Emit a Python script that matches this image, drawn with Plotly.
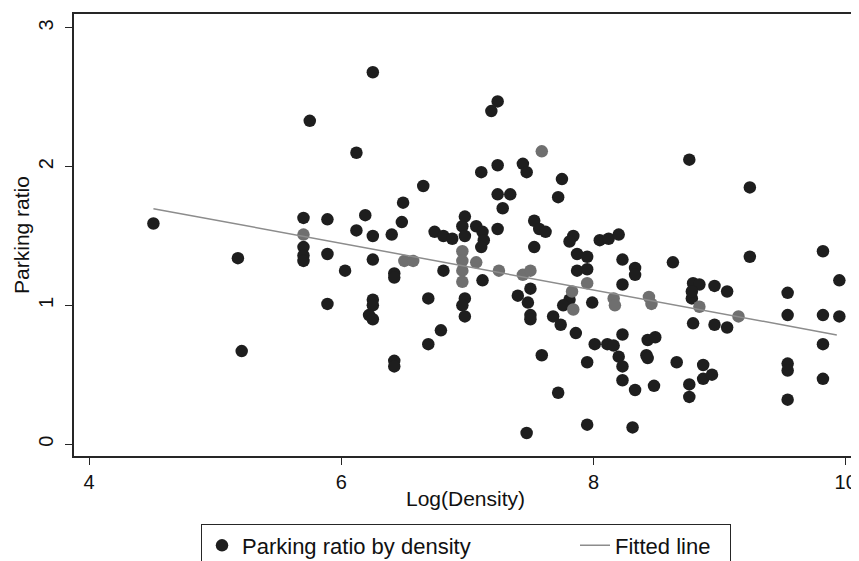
import plotly.graph_objects as go

# Log(Density) / Parking ratio observations (dark markers)
log_density = [
    4.51, 5.18, 5.21, 5.75, 5.70, 5.89, 5.70, 5.70, 5.70, 5.89,
    5.89, 6.12, 6.25, 6.65, 6.49, 6.48, 6.19, 6.12, 6.25, 6.40,
    6.03, 6.25, 6.42, 6.42, 6.25, 6.25, 6.22, 6.25, 6.69, 6.79,
    6.69, 6.42, 6.42, 6.74, 6.81, 6.88, 6.98, 6.96, 6.98, 7.07,
    7.12, 7.13, 7.11, 7.24, 6.81, 7.12, 6.98, 6.96, 6.98, 7.11,
    7.24, 7.44, 7.47, 7.24, 7.34, 7.28, 7.19, 7.24, 7.75, 7.72,
    7.53, 7.57, 7.62, 7.53, 7.40, 7.50, 7.48, 7.50, 7.50, 7.68,
    7.74, 7.86, 7.59, 7.72, 7.47, 7.84, 7.81, 7.87, 7.95, 7.87,
    7.95, 8.05, 8.12, 8.20, 8.23, 8.33, 8.33, 8.63, 8.76, 9.24,
    9.24, 9.82, 9.95, 8.23, 7.81, 7.76, 7.99, 8.79, 8.84, 8.78,
    8.78, 8.96, 9.06, 9.54, 9.54, 9.82, 9.95, 8.79, 8.96, 9.06,
    8.01, 8.11, 8.16, 8.23, 8.43, 8.49, 8.42, 8.43, 8.20, 8.23,
    8.23, 8.33, 8.48, 8.66, 8.87, 8.87, 8.94, 8.76, 8.76, 9.54,
    9.54, 9.82, 9.82, 9.54, 7.95, 7.95, 8.31,
]
parking_ratio = [
    1.59, 1.34, 0.67, 2.33, 1.63, 1.62, 1.42, 1.36, 1.32, 1.37,
    1.01, 2.10, 2.68, 1.86, 1.74, 1.60, 1.65, 1.54, 1.50, 1.51,
    1.25, 1.33, 1.23, 1.20, 1.04, 1.00, 0.93, 0.90, 1.05, 0.82,
    0.72, 0.60, 0.56, 1.53, 1.50, 1.48, 1.64, 1.57, 1.50, 1.57,
    1.53, 1.47, 1.42, 1.55, 1.25, 1.18, 1.05, 1.00, 0.92, 1.96,
    2.01, 2.02, 1.96, 1.80, 1.80, 1.70, 2.40, 2.47, 1.91, 1.78,
    1.61, 1.55, 1.53, 1.42, 1.07, 1.12, 1.02, 0.93, 0.90, 0.92,
    0.86, 0.80, 0.64, 0.37, 0.08, 1.50, 1.46, 1.37, 1.35, 1.25,
    1.26, 1.47, 1.48, 1.51, 1.33, 1.27, 1.22, 1.31, 2.05, 1.85,
    1.35, 1.39, 1.18, 1.15, 1.04, 1.00, 1.02, 1.16, 1.15, 1.05,
    1.10, 1.14, 1.10, 1.09, 0.93, 0.93, 0.92, 0.87, 0.86, 0.84,
    0.72, 0.72, 0.71, 0.79, 0.75, 0.77, 0.64, 0.62, 0.63, 0.56,
    0.46, 0.39, 0.42, 0.59, 0.57, 0.47, 0.50, 0.43, 0.34, 0.58,
    0.53, 0.72, 0.47, 0.32, 0.59, 0.14, 0.12,
]

# observations printed in lighter grey in the original
log_density_grey = [
    5.70, 6.50, 6.57, 6.96, 6.96, 7.07, 6.96, 6.96, 7.25, 7.44,
    7.50, 7.59, 7.95, 7.83, 7.84, 8.16, 8.17, 8.44, 8.46, 8.84, 9.15,
]
parking_ratio_grey = [
    1.51, 1.32, 1.32, 1.39, 1.32, 1.31, 1.25, 1.17, 1.25, 1.22,
    1.25, 2.11, 1.16, 1.10, 0.97, 1.05, 1.00, 1.06, 1.01, 0.99, 0.92,
]

# fitted regression line end points
fit_x = [4.51, 9.93]
fit_y = [1.697, 0.787]

x_ticks = [4, 6, 8, 10]
y_ticks = [0, 1, 2, 3]

FONT = "Liberation Sans, Arial, Helvetica, sans-serif"
INK = "#262626"

fig = go.Figure()
fig.add_trace(go.Scatter(
    x=log_density, y=parking_ratio, mode="markers",
    name="Parking ratio by density",
    marker=dict(color="#1e1e1e", size=12.5, line=dict(width=0)),
    legendwidth=328,
))
fig.add_trace(go.Scatter(
    x=log_density_grey, y=parking_ratio_grey, mode="markers",
    showlegend=False,
    marker=dict(color="#6f6f6f", size=12.5, line=dict(width=0)),
))
fig.add_trace(go.Scatter(
    x=fit_x, y=fit_y, mode="lines", name="Fitted line",
    line=dict(color="#8c8c8c", width=1.5),
    legendwidth=110,
))

axis_common = dict(
    showline=True, mirror=True, linecolor=INK, linewidth=1.5,
    ticks="outside", ticklen=7, tickwidth=1.2, tickcolor=INK,
    showgrid=False, zeroline=False, automargin=False,
    ticklabeloverflow="allow",
    tickfont=dict(family=FONT, size=20, color="#111"),
)

# the page body adds an 8px offset, so the figure is 851 wide and starts at x=8, y=8
fig.update_layout(
    width=851, height=561,
    margin=dict(l=66, r=2, t=6, b=110),
    paper_bgcolor="white", plot_bgcolor="white",
    font=dict(family=FONT, color="#111"),
    xaxis=dict(
        range=[3.88, 10.09], tickvals=x_ticks,
        title=dict(text="Log(Density)", font=dict(family=FONT, size=21), standoff=0),
        **axis_common,
    ),
    yaxis=dict(
        range=[-0.086, 3.10], tickvals=y_ticks, tickangle=-90,
        ticklabelstandoff=4,
        title=dict(text="Parking ratio", font=dict(family=FONT, size=21), standoff=0),
        **axis_common,
    ),
    legend=dict(
        orientation="h", x=0.1622, xanchor="left", y=-0.1528, yanchor="top",
        font=dict(family=FONT, size=22, color="#111"),
        bordercolor=INK, borderwidth=1, bgcolor="white",
        itemwidth=30,
    ),
    showlegend=True,
)

fig.write_html("out.html")
